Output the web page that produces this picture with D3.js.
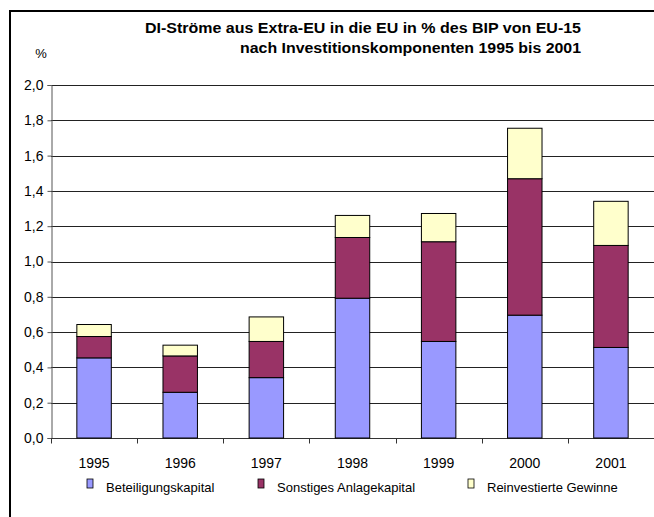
<!DOCTYPE html>
<html>
<head>
<meta charset="utf-8">
<script src="https://cdn.jsdelivr.net/npm/d3@7"></script>
<style>
  body { margin: 0; background: #fff; }
  svg { display: block; font-family: Arial, 'Liberation Sans', sans-serif; }
</style>
</head>
<body>
<div class="container"></div>
<script>
// years on the x axis
const years = ['1995', '1996', '1997', '1998', '1999', '2000', '2001'];
// series, % of GDP of EU-15
const beteiligung = [0.454, 0.259, 0.342, 0.792, 0.547, 0.696, 0.513];
const sonstiges = [0.121, 0.206, 0.205, 0.344, 0.565, 0.773, 0.578];
const reinvest = [0.068, 0.061, 0.139, 0.125, 0.160, 0.286, 0.250];
const seriesNames = ['Beteiligungskapital', 'Sonstiges Anlagekapital', 'Reinvestierte Gewinne'];
const seriesColors = ['#9999FF', '#993366', '#FFFFCC'];
const yTicks = [0, 0.2, 0.4, 0.6, 0.8, 1.0, 1.2, 1.4, 1.6, 1.8, 2.0];
const titleLines = ['DI-Ströme aus Extra-EU in die EU in % des BIP von EU-15',
    'nach Investitionskomponenten 1995 bis 2001'];

const width = 654, height = 517;

const rows = years.map((y, i) => ({
    year: y,
    Beteiligungskapital: beteiligung[i],
    'Sonstiges Anlagekapital': sonstiges[i],
    'Reinvestierte Gewinne': reinvest[i]
}));

const stacked = d3.stack().keys(seriesNames)(rows);

const x = d3.scaleBand()
    .domain(years)
    .range([51, 654])
    .paddingInner(0.6)
    .paddingOuter(0.3);

const y = d3.scaleLinear()
    .domain([0, 2])
    .range([438, 85]);

const color = d3.scaleOrdinal().domain(seriesNames).range(seriesColors);

const svg = d3.select('.container')
    .append('svg')
    .attr('width', width)
    .attr('height', height);

// outer frame (right and bottom edges fall outside the picture)
svg.append('path')
    .attr('d', 'M10,' + (height + 5) + 'V11H' + (width + 5))
    .attr('fill', 'none')
    .attr('stroke', '#000')
    .attr('stroke-width', 2);

// title - the original glyphs are drawn wide, so stretch them a bit
const titleWidths = [436, 341];
svg.append('g')
    .attr('font-weight', 'bold')
    .attr('font-size', 14)
    .attr('text-anchor', 'end')
    .selectAll('text')
    .data(titleLines)
    .join('text')
    .attr('x', 581)
    .attr('y', (d, i) => 33 + i * 20)
    .attr('textLength', (d, i) => titleWidths[i])
    .attr('lengthAdjust', 'spacingAndGlyphs')
    .text(d => d);

svg.append('text')
    .attr('x', 41)
    .attr('y', 58)
    .attr('text-anchor', 'middle')
    .attr('font-size', 13)
    .text('%');

// gridlines
svg.append('g')
    .selectAll('line')
    .data(yTicks)
    .join('line')
    .attr('x1', 51)
    .attr('x2', width)
    .attr('y1', d => Math.round(y(d)) + 0.5)
    .attr('y2', d => Math.round(y(d)) + 0.5)
    .attr('stroke', '#222')
    .attr('stroke-width', 1);

// y axis
const yAxis = svg.append('g')
    .attr('transform', 'translate(51.5,0)')
    .call(d3.axisLeft(y)
        .tickValues(yTicks)
        .tickSize(4)
        .tickFormat(d => d3.format('.1f')(d).replace('.', ',')));
yAxis.attr('font-family', null);
yAxis.select('.domain').attr('stroke', '#555');
yAxis.selectAll('.tick line').attr('stroke', '#555');
yAxis.selectAll('text')
    .attr('font-size', 14)
    .attr('fill', '#000')
    .attr('dx', '-1');

// x axis with ticks between bands
const xAxis = svg.append('g')
    .attr('transform', 'translate(0,' + (Math.round(y(0)) + 0.5) + ')');
xAxis.append('line')
    .attr('x1', 51)
    .attr('x2', width)
    .attr('stroke', '#333');
xAxis.selectAll('.sep')
    .data(years)
    .join('line')
    .attr('class', 'sep')
    .attr('x1', d => Math.round(x(d) - x.step() * x.paddingInner() / 2) + 0.5)
    .attr('x2', d => Math.round(x(d) - x.step() * x.paddingInner() / 2) + 0.5)
    .attr('y1', 0)
    .attr('y2', 5)
    .attr('stroke', '#333');
xAxis.selectAll('text')
    .data(years)
    .join('text')
    .attr('x', d => x(d) + x.bandwidth() / 2)
    .attr('y', 29)
    .attr('text-anchor', 'middle')
    .attr('font-size', 14)
    .text(d => d);

// stacked bars
svg.append('g')
    .selectAll('g')
    .data(stacked)
    .join('g')
    .attr('fill', d => color(d.key))
    .selectAll('rect')
    .data(d => d)
    .join('rect')
    .attr('x', d => x(d.data.year))
    .attr('y', d => y(d[1]))
    .attr('width', x.bandwidth())
    .attr('height', d => y(d[0]) - y(d[1]))
    .attr('stroke', '#000')
    .attr('stroke-width', 1);

// legend
const legendX = [87, 258, 468];
const legend = svg.append('g')
    .selectAll('g')
    .data(seriesNames)
    .join('g')
    .attr('transform', (d, i) => 'translate(' + legendX[i] + ',479)');
legend.append('rect')
    .attr('width', 6)
    .attr('height', 9)
    .attr('fill', d => color(d))
    .attr('stroke', '#000')
    .attr('stroke-width', 0.8);
legend.append('text')
    .attr('x', 19)
    .attr('y', 13)
    .attr('font-size', 13)
    .text(d => d);
</script>
</body>
</html>
